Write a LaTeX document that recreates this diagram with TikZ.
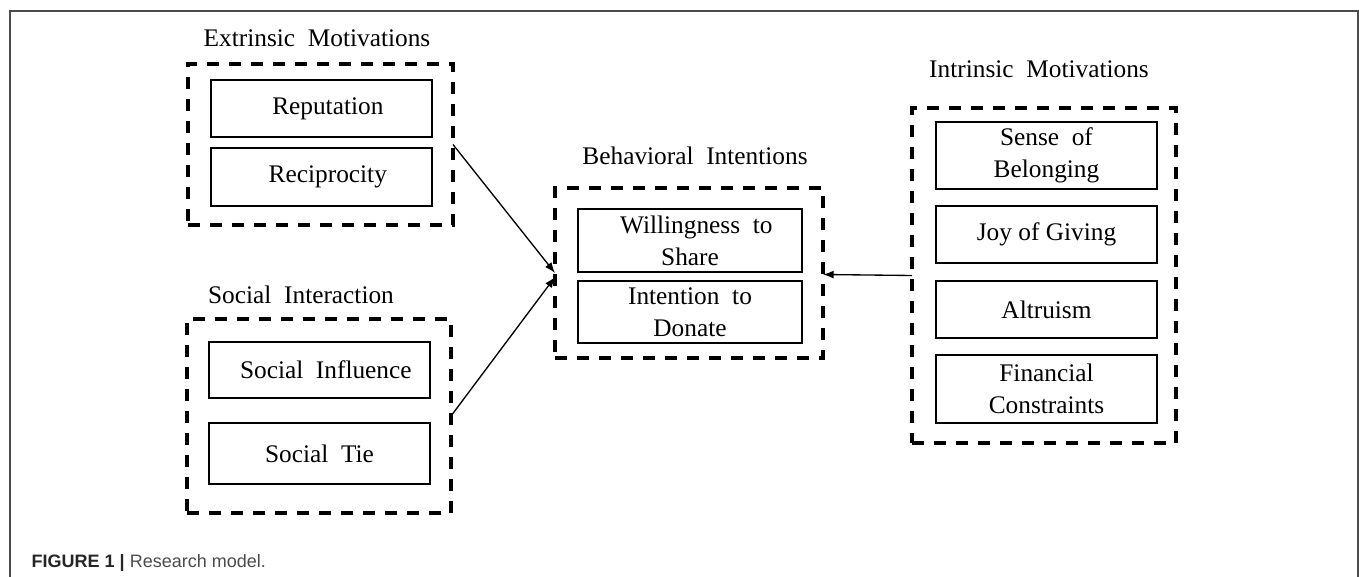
\documentclass[tikz,border=0pt]{standalone}
\usepackage{fontspec}
\setmainfont{Liberation Serif}
\newfontfamily\capfont{Liberation Sans}
\usepackage{tikz}
\usetikzlibrary{calc,arrows.meta}

\begin{document}
\begin{tikzpicture}[x=0.75pt,y=-0.75pt,
        group/.style={draw,dashed,line width=2.7pt,dash pattern=on 9pt off 7.5pt,
            inner sep=0pt,outer sep=0pt},
        item/.style={draw,line width=1.9pt,inner sep=0pt,outer sep=0pt,
            minimum width=165.75pt,align=center,
            font=\fontsize{19}{24}\selectfont},
        ttl/.style={anchor=base,font=\fontsize{19}{24}\selectfont},
        link/.style={-{Latex[length=8pt,width=6pt]},line width=1pt}]
        \useasboundingbox (0,0) rectangle (1359,577);
        \draw[black!70,line width=1pt] (10,577) -- (10,11) -- (1358,11) -- (1358,577);
        % extrinsic
        \node[group,minimum width=198.75pt,minimum height=120.75pt] (extr) at (320.5,144.5) {};
        \node[ttl] (extrttl) at (317,47) {Extrinsic\ \ Motivations};
        \node[item,minimum height=42.75pt] (repu) at (321.5,108.5) {\ \ Reputation};
        \node[item,minimum height=43.5pt] (reci) at (321.5,177) {\ \ Reciprocity};
        % social
        \node[group,minimum width=198pt,minimum height=145.5pt] (soc) at (319,416) {};
        \node[ttl] (socttl) at (301,303) {Social\ \ Interaction};
        \node[item,minimum height=42pt] (infl) at (319.5,370) {\ \ Social\ \ Influence};
        \node[item,minimum height=45.75pt] (tie) at (319.5,453.5) {Social\ \ Tie};
        % behavioral
        \node[group,minimum width=201pt,minimum height=127.5pt] (behav) at (689,273) {};
        \node[ttl] (behavttl) at (695,165) {Behavioral\ \ Intentions};
        \node[item,minimum width=168pt,minimum height=47.25pt] (share) at (690,240.5) {\ \ Willingness\ \ to\\Share};
        \node[item,minimum width=168pt,minimum height=46.5pt] (donate) at (690,312) {Intention\ \ to\\Donate};
        % intrinsic
        \node[group,minimum width=198pt,minimum height=251.25pt] (intr) at (1044,275.5) {};
        \node[ttl] (intrttl) at (1039,78) {Intrinsic\ \ Motivations};
        \node[item,minimum height=50.25pt] (belong) at (1046.5,155.5) {Sense\ \ of\\Belonging};
        \node[item,minimum height=42.75pt] (joy) at (1046.5,234.5) {Joy of Giving};
        \node[item,minimum height=42.75pt] (altru) at (1046.5,309.5) {Altruism};
        \node[item,minimum height=51pt] (finan) at (1046.5,389) {Financial\\Constraints};
        % links
        \draw[link] (extr.east) -- (behav.west);
        \draw[link] (soc.east) -- ($(behav.west)+(0,4)$);
        \draw[link] (intr.west) -- ($(behav.east)+(0,1.5)$);
        % caption
        \node[anchor=base west,font=\capfont\fontsize{13.5}{16}\selectfont] (cap) at (27,567)
            {\textcolor{black!85}{\textbf{FIGURE 1 |}} \textcolor{black!70}{Research model.}};
    \end{tikzpicture}
\end{document}
